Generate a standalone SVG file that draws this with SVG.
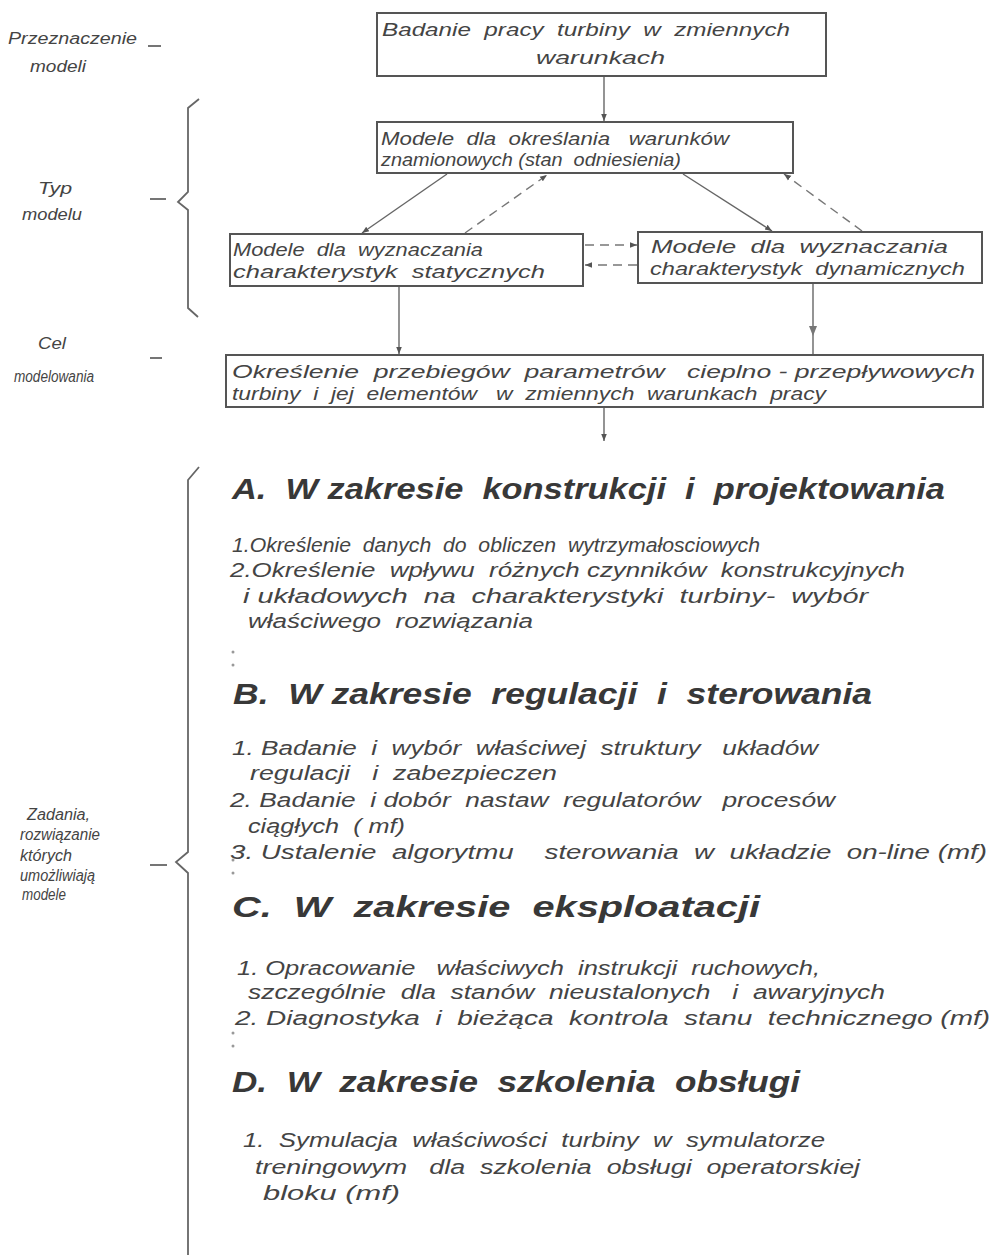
<svg xmlns="http://www.w3.org/2000/svg" width="993" height="1255" viewBox="0 0 993 1255">
<defs>
<marker id="ah" viewBox="0 0 10 10" refX="10" refY="5" markerWidth="7" markerHeight="9" orient="auto" markerUnits="userSpaceOnUse">
<path d="M0,1 L10,5 L0,9 z" fill="#555"/>
</marker>
</defs>
<style>
text{font-family:"Liberation Sans","DejaVu Sans",sans-serif;font-style:italic;fill:#444;white-space:pre}
.t{font-size:19px}
.l{font-size:16px}
.h{font-size:30px;font-weight:bold;fill:#383838}
.i{font-size:20px}
.box{fill:none;stroke:#555;stroke-width:2}
.c{fill:none;stroke:#666;stroke-width:1.4}
.d{fill:none;stroke:#777;stroke-width:1.4;stroke-dasharray:9 6}
.br{fill:none;stroke:#666;stroke-width:1.8}
.dot{fill:#999}
</style>
<rect width="993" height="1255" fill="#fff"/>

<g id="labels">
<text class="l" x="8" y="44" textLength="129" lengthAdjust="spacingAndGlyphs">Przeznaczenie</text>
<text class="l" x="30" y="72" textLength="56" lengthAdjust="spacingAndGlyphs">modeli</text>
<line class="br" x1="148" y1="46" x2="161" y2="46"/>
<text class="l" x="38" y="194" textLength="34" lengthAdjust="spacingAndGlyphs">Typ</text>
<text class="l" x="22" y="220" textLength="60" lengthAdjust="spacingAndGlyphs">modelu</text>
<line class="br" x1="150" y1="199" x2="166" y2="199"/>
<text class="l" x="38" y="349" textLength="28" lengthAdjust="spacingAndGlyphs">Cel</text>
<text class="l" x="14" y="382" textLength="80" lengthAdjust="spacingAndGlyphs">modelowania</text>
<line class="br" x1="150" y1="358" x2="162" y2="358"/>
<text class="l" x="27" y="820" textLength="63" lengthAdjust="spacingAndGlyphs">Zadania,</text>
<text class="l" x="20" y="840" textLength="80" lengthAdjust="spacingAndGlyphs">rozwiązanie</text>
<text class="l" x="20" y="861" textLength="52" lengthAdjust="spacingAndGlyphs">których</text>
<text class="l" x="20" y="881" textLength="75" lengthAdjust="spacingAndGlyphs">umożliwiają</text>
<text class="l" x="22" y="900" textLength="44" lengthAdjust="spacingAndGlyphs">modele</text>
<line class="br" x1="150" y1="865" x2="167" y2="865"/>
</g>

<g id="braces">
<path class="br" d="M199,99 L188,108 L188,192 L178,202 L188,210 L188,308 L198,317"/>
<path class="br" d="M199,467 L188,480 L188,852 L176,862 L188,873 L188,1255"/>
</g>

<g id="connectors">
<line class="c" x1="604" y1="76" x2="604" y2="121" marker-end="url(#ah)"/>
<line class="c" x1="447" y1="174" x2="362" y2="233" marker-end="url(#ah)"/>
<line class="d" x1="465" y1="233" x2="547" y2="175" marker-end="url(#ah)"/>
<line class="c" x1="683" y1="174" x2="772" y2="231" marker-end="url(#ah)"/>
<line class="d" x1="862" y1="231" x2="784" y2="174" marker-end="url(#ah)"/>
<line class="d" x1="585" y1="245" x2="637" y2="245" marker-end="url(#ah)"/>
<line class="d" x1="637" y1="265" x2="585" y2="265" marker-end="url(#ah)"/>
<line class="c" x1="399" y1="286" x2="399" y2="354" marker-end="url(#ah)"/>
<line class="c" x1="813" y1="283" x2="813" y2="355"/>
<path d="M809,326 L817,326 L813,336 z" fill="#777"/>
<line class="c" x1="604" y1="407" x2="604" y2="441" marker-end="url(#ah)"/>
</g>

<g id="n1">
<rect class="box" x="377" y="13" width="449" height="63"/>
<text class="t" x="382" y="36" textLength="408" lengthAdjust="spacingAndGlyphs">Badanie  pracy  turbiny  w  zmiennych</text>
<text class="t" x="536" y="64" textLength="129" lengthAdjust="spacingAndGlyphs">warunkach</text>
</g>
<g id="n2">
<rect class="box" x="377" y="122" width="416" height="51"/>
<text class="t" x="381" y="145" textLength="348" lengthAdjust="spacingAndGlyphs">Modele  dla  określania   warunków</text>
<text class="t" x="381" y="166" textLength="300" lengthAdjust="spacingAndGlyphs">znamionowych (stan  odniesienia)</text>
</g>
<g id="n3">
<rect class="box" x="230" y="234" width="353" height="52"/>
<text class="t" x="233" y="256" textLength="250" lengthAdjust="spacingAndGlyphs">Modele  dla  wyznaczania</text>
<text class="t" x="233" y="278" textLength="312" lengthAdjust="spacingAndGlyphs">charakterystyk  statycznych</text>
</g>
<g id="n4">
<rect class="box" x="638" y="232" width="344" height="51"/>
<text class="t" x="651" y="253" textLength="297" lengthAdjust="spacingAndGlyphs">Modele  dla  wyznaczania</text>
<text class="t" x="650" y="275" textLength="315" lengthAdjust="spacingAndGlyphs">charakterystyk  dynamicznych</text>
</g>
<g id="n5">
<rect class="box" x="226" y="355" width="757" height="52"/>
<text class="t" x="232" y="378" textLength="743" lengthAdjust="spacingAndGlyphs">Określenie  przebiegów  parametrów   cieplno - przepływowych</text>
<text class="t" x="232" y="400" textLength="594" lengthAdjust="spacingAndGlyphs">turbiny  i  jej  elementów   w  zmiennych  warunkach  pracy</text>
</g>

<g id="sectionA">
<text class="h" x="232" y="499" textLength="713" lengthAdjust="spacingAndGlyphs">A.  W zakresie  konstrukcji  i  projektowania</text>
<text class="i" x="232" y="552" textLength="528" lengthAdjust="spacingAndGlyphs">1.Określenie  danych  do  obliczen  wytrzymałosciowych</text>
<text class="i" x="230" y="577" textLength="675" lengthAdjust="spacingAndGlyphs">2.Określenie  wpływu  różnych czynników  konstrukcyjnych</text>
<text class="i" x="243" y="603" textLength="625" lengthAdjust="spacingAndGlyphs">i układowych  na  charakterystyki  turbiny-  wybór</text>
<text class="i" x="248" y="628" textLength="285" lengthAdjust="spacingAndGlyphs">właściwego  rozwiązania</text>
</g>
<g id="sectionB">
<text class="h" x="233" y="704" textLength="639" lengthAdjust="spacingAndGlyphs">B.  W zakresie  regulacji  i  sterowania</text>
<text class="i" x="232" y="755" textLength="586" lengthAdjust="spacingAndGlyphs">1. Badanie  i  wybór  właściwej  struktury   układów</text>
<text class="i" x="250" y="780" textLength="307" lengthAdjust="spacingAndGlyphs">regulacji   i  zabezpieczen</text>
<text class="i" x="230" y="807" textLength="605" lengthAdjust="spacingAndGlyphs">2. Badanie  i dobór  nastaw  regulatorów   procesów</text>
<text class="i" x="248" y="833" textLength="157" lengthAdjust="spacingAndGlyphs">ciągłych  ( mf)</text>
<text class="i" x="230" y="859" textLength="757" lengthAdjust="spacingAndGlyphs">3. Ustalenie  algorytmu    sterowania  w  układzie  on-line (mf)</text>
</g>
<g id="sectionC">
<text class="h" x="232" y="917" textLength="528" lengthAdjust="spacingAndGlyphs">C.  W  zakresie  eksploatacji</text>
<text class="i" x="237" y="975" textLength="583" lengthAdjust="spacingAndGlyphs">1. Opracowanie   właściwych  instrukcji  ruchowych,</text>
<text class="i" x="248" y="999" textLength="637" lengthAdjust="spacingAndGlyphs">szczególnie  dla  stanów  nieustalonych   i  awaryjnych</text>
<text class="i" x="235" y="1025" textLength="755" lengthAdjust="spacingAndGlyphs">2. Diagnostyka  i  bieżąca  kontrola  stanu  technicznego (mf)</text>
</g>
<g id="sectionD">
<text class="h" x="232" y="1092" textLength="568" lengthAdjust="spacingAndGlyphs">D.  W  zakresie  szkolenia  obsługi</text>
<text class="i" x="243" y="1147" textLength="582" lengthAdjust="spacingAndGlyphs">1.  Symulacja  właściwości  turbiny  w  symulatorze</text>
<text class="i" x="255" y="1174" textLength="605" lengthAdjust="spacingAndGlyphs">treningowym   dla  szkolenia  obsługi  operatorskiej</text>
<text class="i" x="263" y="1200" textLength="137" lengthAdjust="spacingAndGlyphs">bloku (mf)</text>
</g>

<g id="specks">
<circle class="dot" cx="233" cy="652" r="1.5"/>
<circle class="dot" cx="233" cy="665" r="1.5"/>
<circle class="dot" cx="233" cy="860" r="1.5"/>
<circle class="dot" cx="233" cy="873" r="1.5"/>
<circle class="dot" cx="233" cy="1033" r="1.5"/>
<circle class="dot" cx="233" cy="1046" r="1.5"/>
</g>
</svg>
